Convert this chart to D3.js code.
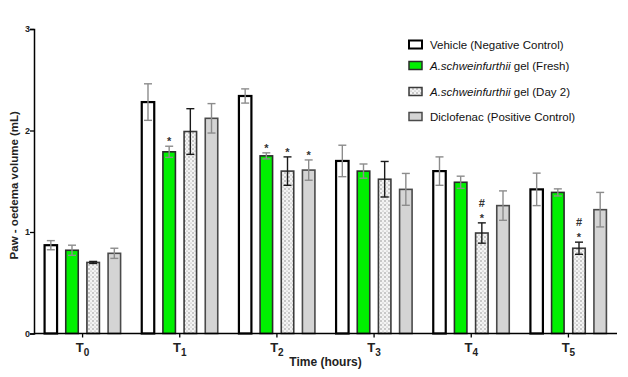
<!DOCTYPE html>
<html><head><meta charset="utf-8">
<script src="https://cdn.jsdelivr.net/npm/d3@7/dist/d3.min.js"></script>
<style>
body{margin:0;background:#fff;}
svg{display:block;font-family:"Liberation Sans",Arial,sans-serif;}
</style></head>
<body><svg id="chart" width="628" height="377"></svg>
<script>
const groups = ["0","1","2","3","4","5"];
const seriesKeys = ["vehicle","fresh","day2","diclo"];
const vehicle = [0.87, 2.28, 2.34, 1.70, 1.60, 1.42];
const vehicleErr = [0.045, 0.18, 0.07, 0.155, 0.14, 0.16];
const fresh = [0.82, 1.79, 1.75, 1.60, 1.49, 1.39];
const freshErr = [0.05, 0.055, 0.03, 0.07, 0.06, 0.035];
const day2 = [0.70, 1.99, 1.60, 1.52, 0.99, 0.84];
const day2Err = [0.01, 0.225, 0.14, 0.175, 0.10, 0.06];
const diclo = [0.79, 2.12, 1.61, 1.42, 1.26, 1.22];
const dicloErr = [0.05, 0.145, 0.10, 0.157, 0.145, 0.17];
const yTicks = [0, 1, 2, 3];
const annotations = [
  {g:"1", s:"fresh", marks:["*"]},
  {g:"2", s:"fresh", marks:["*"]},
  {g:"2", s:"day2", marks:["*"]},
  {g:"2", s:"diclo", marks:["*"]},
  {g:"4", s:"day2", marks:["*","#"]},
  {g:"5", s:"day2", marks:["*","#"]}
];

const values = {vehicle, fresh, day2, diclo};
const errors = {vehicle:vehicleErr, fresh:freshErr, day2:day2Err, diclo:dicloErr};
const styles = {
  vehicle:{fill:"#fff", stroke:"#000", sw:2.2, err:"#8c8c8c"},
  fresh:{fill:"#00f000", stroke:"#2a2a2a", sw:1.6, err:"#8c8c8c"},
  day2:{fill:"url(#dots)", stroke:"#3a3a3a", sw:1.6, err:"#1a1a1a"},
  diclo:{fill:"#d4d4d4", stroke:"#4a4a4a", sw:1.6, err:"#8c8c8c"}
};

const svg = d3.select("#chart");
const defs = svg.append("defs");
const pat = defs.append("pattern").attr("id","dots").attr("patternUnits","userSpaceOnUse")
  .attr("width",4).attr("height",4);
pat.append("rect").attr("width",4).attr("height",4).attr("fill","#f4f4f4");
pat.append("circle").attr("cx",1).attr("cy",1).attr("r",0.7).attr("fill","#7a7a7a");
pat.append("circle").attr("cx",3).attr("cy",3).attr("r",0.6).attr("fill","#9a9a9a");

const mLeft = 34, mRight = 617, mTop = 29, mBottom = 333.5;
const x0 = d3.scaleBand().domain(groups).range([mLeft, mRight]).padding(0);
const half = 38;
const x1 = d3.scaleBand().domain(seriesKeys).range([x0.bandwidth()/2 - half, x0.bandwidth()/2 + half])
  .paddingInner(0.41).paddingOuter(0);
const y = d3.scaleLinear().domain([0,3]).range([mBottom, mTop]);

const bw = x1.bandwidth();
const barData = [];
groups.forEach((g,i)=>seriesKeys.forEach(s=>barData.push({g,s,v:values[s][i],e:errors[s][i]})));

svg.append("g").selectAll("rect.bar").data(barData).join("rect").attr("class","bar")
  .attr("x", d=>x0(d.g)+x1(d.s))
  .attr("y", d=>y(d.v))
  .attr("width", bw)
  .attr("height", d=>y(0)-y(d.v))
  .attr("fill", d=>styles[d.s].fill)
  .attr("stroke", d=>styles[d.s].stroke)
  .attr("stroke-width", d=>styles[d.s].sw);

const cap = 4;
const eb = svg.append("g").selectAll("g").data(barData).join("g")
  .attr("stroke", d=>styles[d.s].err).attr("stroke-width",1.4).attr("fill","none");
eb.append("line")
  .attr("x1", d=>x0(d.g)+x1(d.s)+bw/2).attr("x2", d=>x0(d.g)+x1(d.s)+bw/2)
  .attr("y1", d=>y(d.v+d.e)).attr("y2", d=>y(d.v-d.e));
eb.append("line")
  .attr("x1", d=>x0(d.g)+x1(d.s)+bw/2-cap).attr("x2", d=>x0(d.g)+x1(d.s)+bw/2+cap)
  .attr("y1", d=>y(d.v+d.e)).attr("y2", d=>y(d.v+d.e));
eb.append("line")
  .attr("x1", d=>x0(d.g)+x1(d.s)+bw/2-cap).attr("x2", d=>x0(d.g)+x1(d.s)+bw/2+cap)
  .attr("y1", d=>y(d.v-d.e)).attr("y2", d=>y(d.v-d.e));

const gi = g=>groups.indexOf(g);
annotations.forEach(a=>{
  const i = gi(a.g);
  const xc = x0(a.g)+x1(a.s)+bw/2;
  const yTop = y(values[a.s][i]+errors[a.s][i]);
  a.marks.forEach((m,k)=>{
    svg.append("text").attr("x",xc).attr("y", yTop - 3 - k*12 + (m==="*"?2:-1))
      .attr("text-anchor","middle").attr("font-size",11).attr("font-weight","bold")
      .attr("fill","#333").text(m);
  });
});

const yAxis = d3.axisLeft(y).tickValues(yTicks).tickSize(4).tickFormat(d3.format("d"));
const ya = svg.append("g").attr("transform",`translate(${mLeft},0)`).call(yAxis);
ya.select(".domain").attr("stroke","#000").attr("stroke-width",1.5);
ya.selectAll(".tick line").attr("stroke","#000").attr("stroke-width",1.3);
ya.selectAll(".tick text").attr("font-size",9).attr("font-weight","bold").attr("fill","#222").attr("x",-4);

const xAxis = d3.axisBottom(x0).tickSize(4).tickFormat("");
const xa = svg.append("g").attr("transform",`translate(0,${mBottom})`).call(xAxis);
xa.select(".domain").attr("stroke","#000").attr("stroke-width",1.5).attr("d",`M${mLeft},0H${mRight}`);
xa.selectAll(".tick line").attr("stroke","#000").attr("stroke-width",1.3);
xa.selectAll(".tick").append("text").attr("y",18).attr("fill","#222").attr("text-anchor","middle")
  .attr("font-weight","bold").attr("font-size",13)
  .each(function(d){
    const t = d3.select(this);
    t.append("tspan").text("T");
    t.append("tspan").attr("font-size",10).attr("dy",4).text(d);
  });

svg.append("text").attr("x",(mLeft+mRight)/2).attr("y",366).attr("text-anchor","middle")
  .attr("font-size",12).attr("font-weight","bold").attr("fill","#222").text("Time (hours)");
svg.append("text").attr("transform",`translate(18,${(mTop+mBottom)/2 + 4}) rotate(-90)`)
  .attr("text-anchor","middle").attr("font-size",11.5).attr("font-weight","bold").attr("fill","#222")
  .text("Paw - oedema volume (mL)");

const legendItems = [
  {s:"vehicle", parts:[["Vehicle (Negative Control)",false]]},
  {s:"fresh", parts:[["A.schweinfurthii",true],[" gel (Fresh)",false]]},
  {s:"day2", parts:[["A.schweinfurthii",true],[" gel (Day 2)",false]]},
  {s:"diclo", parts:[["Diclofenac (Positive Control)",false]]}
];
const legendY = d3.scaleOrdinal().domain(seriesKeys).range([44.5, 65.5, 91.5, 116.5]);
const lg = svg.append("g");
legendItems.forEach(it=>{
  const yy = legendY(it.s);
  lg.append("rect").attr("x",409).attr("y",yy-4).attr("width",13).attr("height",8)
    .attr("fill",styles[it.s].fill).attr("stroke",styles[it.s].stroke).attr("stroke-width",it.s==="vehicle"?2:1.5);
  const t = lg.append("text").attr("x",430).attr("y",yy+4).attr("font-size",11.5).attr("fill","#111");
  it.parts.forEach(p=>t.append("tspan").attr("font-style",p[1]?"italic":"normal").text(p[0]));
});
</script></body></html>
